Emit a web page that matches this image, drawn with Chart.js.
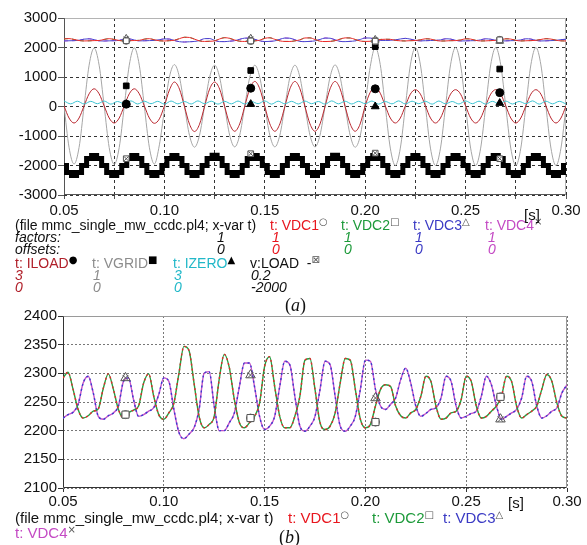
<!DOCTYPE html>
<html>
<head>
<meta charset="utf-8">
<script src="https://cdn.jsdelivr.net/npm/chart.js@4.4.0/dist/chart.umd.min.js"></script>
<style>
body { margin: 0; background: #fff; }
#wrap { position: relative; width: 587px; height: 545px; font-family: "Liberation Sans", Arial, sans-serif; color: #111; overflow: hidden; }
canvas { position: absolute; left: 0; }
.t { position: absolute; white-space: nowrap; font-size: 14px; line-height: 14px; }
.b { font-size: 15px; line-height: 15px; }
.i { font-style: italic; }
sup { font-size: 10px; color: #555; vertical-align: 5px; line-height: 0; font-family: "DejaVu Sans", sans-serif; }
.cap { font-family: "Liberation Serif", "Times New Roman", serif; font-size: 18px; line-height: 18px; }
.red { color: #e8161e; } .grn { color: #1d9a3a; } .blu { color: #3a3ac4; } .mag { color: #c44ac4; }
.drd { color: #b0202a; } .gry { color: #8c8c8c; } .cya { color: #22b8c8; }
</style>
</head>
<body>
<div id="wrap">
  <canvas id="chartA" width="587" height="222" style="top:0"></canvas>
  <canvas id="chartB" width="587" height="215" style="top:300px"></canvas>

  <!-- leyenda (a) -->
  <div class="t" style="left:15px;top:218px">(file mmc_single_mw_ccdc.pl4; x-var t)</div>
  <div class="t red" style="left:270px;top:218px">t: VDC1<sup>○</sup></div>
  <div class="t grn" style="left:341px;top:218px">t: VDC2<sup>□</sup></div>
  <div class="t blu" style="left:413px;top:218px">t: VDC3<sup>△</sup></div>
  <div class="t mag" style="left:485px;top:218px">t: VDC4<sup>×</sup></div>

  <div class="t i" style="left:15px;top:230px">factors:</div>
  <div class="t i" style="left:217px;top:230px">1</div>
  <div class="t i red" style="left:272px;top:230px">1</div>
  <div class="t i grn" style="left:344px;top:230px">1</div>
  <div class="t i blu" style="left:415px;top:230px">1</div>
  <div class="t i mag" style="left:488px;top:230px">1</div>

  <div class="t i" style="left:15px;top:242px">offsets:</div>
  <div class="t i" style="left:217px;top:242px">0</div>
  <div class="t i red" style="left:272px;top:242px">0</div>
  <div class="t i grn" style="left:344px;top:242px">0</div>
  <div class="t i blu" style="left:415px;top:242px">0</div>
  <div class="t i mag" style="left:488px;top:242px">0</div>

  <div class="t drd" style="left:15px;top:256px">t: ILOAD<sup style="color:#000">●</sup></div>
  <div class="t gry" style="left:92px;top:256px">t: VGRID<sup style="color:#000">■</sup></div>
  <div class="t cya" style="left:173px;top:256px">t: IZERO<sup style="color:#000">▲</sup></div>
  <div class="t" style="left:250px;top:256px">v:LOAD&nbsp; -<sup>⊠</sup></div>

  <div class="t i drd" style="left:15px;top:268px">3</div>
  <div class="t i gry" style="left:93px;top:268px">1</div>
  <div class="t i cya" style="left:174px;top:268px">3</div>
  <div class="t i" style="left:251px;top:268px">0.2</div>

  <div class="t i drd" style="left:15px;top:280px">0</div>
  <div class="t i gry" style="left:93px;top:280px">0</div>
  <div class="t i cya" style="left:174px;top:280px">0</div>
  <div class="t i" style="left:251px;top:280px">-2000</div>

  <div class="t cap" style="left:285px;top:296px">(<i>a</i>)</div>
  <div class="t b" style="left:524px;top:207px">[s]</div>

  <!-- leyenda (b) -->
  <div class="t b" style="left:508px;top:495px">[s]</div>
  <div class="t b" style="left:15px;top:510px">(file mmc_single_mw_ccdc.pl4; x-var t)</div>
  <div class="t b red" style="left:288px;top:510px">t: VDC1<sup>○</sup></div>
  <div class="t b grn" style="left:372px;top:510px">t: VDC2<sup>□</sup></div>
  <div class="t b blu" style="left:443px;top:510px">t: VDC3<sup>△</sup></div>
  <div class="t b mag" style="left:15px;top:525px">t: VDC4<sup>×</sup></div>
  <div class="t cap" style="left:279px;top:528px">(<i>b</i>)</div>
</div>

<script>
// eje de tiempo comun (s)
const tInicio = 0.05;
const tPaso = 0.0025;

// VDC1 y VDC2 se ven superpuestas, VDC3 y VDC4 tambien
const vdc12 = [2292,2302,2272,2237,2222,2226,2234,2238,2274,2299,
  2272,2237,2222,2231,2236,2243,2283,2299,2260,2228,
  2220,2231,2248,2300,2347,2340,2283,2225,2205,2211,
  2225,2290,2333,2310,2254,2214,2205,2214,2225,2248,
  2312,2329,2277,2225,2205,2205,2225,2260,2323,2326,
  2272,2214,2202,2208,2231,2283,2326,2323,2272,2220,
  2205,2211,2243,2272,2280,2277,2243,2226,2222,2231,
  2237,2260,2295,2286,2243,2220,2222,2231,2234,2254,
  2295,2286,2243,2222,2225,2234,2243,2260,2295,2286,
  2243,2222,2228,2234,2243,2272,2298,2286,2248,2225,
  2222];
const vdc34 = [2222,2228,2232,2246,2283,2295,2266,2225,2220,2226,
  2231,2243,2286,2292,2254,2225,2228,2234,2240,2263,
  2292,2286,2237,2197,2186,2194,2205,2237,2300,2303,
  2243,2200,2200,2214,2231,2277,2318,2318,2277,2225,
  2202,2208,2225,2277,2321,2315,2260,2208,2199,2208,
  2225,2272,2321,2315,2260,2208,2199,2208,2225,2272,
  2323,2321,2272,2243,2237,2246,2257,2289,2309,2283,
  2243,2225,2230,2237,2240,2257,2295,2286,2243,2222,
  2225,2230,2234,2260,2295,2280,2243,2220,2225,2231,
  2237,2257,2295,2286,2243,2222,2226,2234,2240,2266,
  2280];

const vgrid = [30,-1380,-1950,-1390,10,1400,1980,1400,
  20,-1390,-1960,-1390,0,1400,1990,1400,
  10,-1380,-1950,-1300,-120,1000,1420,990,
  0,-980,-1380,-970,10,990,1400,990,
  0,-970,-1370,-970,10,990,1400,990,
  0,-970,-1370,-970,10,990,1400,990,
  0,-970,-1370,-970,10,1000,1410,1000,
  0,-970,-1380,-1000,80,1350,2000,1420,
  0,-1410,-2000,-1410,0,1410,2000,1410,
  0,-1410,-2000,-1410,0,1410,2000,1410,
  0,-1410,-2000,-1410,0,1410,2000,1410,
  0,-1410,-2000,-1410,0,1410,2000,1410,
  0,-1410,-2000,-1410,0];

const iload = [20,-390,-560,-390,20,430,600,430,
  20,-390,-560,-390,20,430,600,430,
  20,-390,-570,-420,20,560,830,590,
  0,-600,-850,-600,0,590,830,590,
  0,-590,-840,-590,0,600,850,600,
  0,-590,-840,-590,0,600,850,600,
  0,-590,-840,-590,0,600,850,600,
  0,-590,-840,-590,20,480,650,450,
  20,-390,-560,-390,20,420,570,420,
  20,-390,-560,-390,20,420,570,420,
  20,-390,-560,-390,20,420,570,420,
  20,-390,-560,-390,20,420,570,420,
  20,-390,-560,-390,20];

const vload = [-2000,-2240,-2340,-2240,-2000,-1760,-1660,-1760,
  -2000,-2240,-2340,-2240,-2000,-1760,-1660,-1760,
  -2000,-2240,-2340,-2240,-2000,-1760,-1660,-1760,
  -2000,-2240,-2340,-2240,-2000,-1760,-1650,-1760,
  -2000,-2240,-2340,-2240,-2000,-1760,-1660,-1760,
  -2000,-2240,-2340,-2240,-2000,-1760,-1660,-1760,
  -2000,-2240,-2340,-2240,-2000,-1760,-1650,-1760,
  -2000,-2240,-2340,-2240,-2000,-1760,-1660,-1760,
  -2000,-2240,-2340,-2240,-2000,-1760,-1660,-1760,
  -2000,-2240,-2340,-2240,-2000,-1760,-1660,-1760,
  -2000,-2240,-2340,-2240,-2000,-1760,-1660,-1760,
  -2000,-2240,-2340,-2240,-2000,-1760,-1660,-1760,
  -2000,-2240,-2340,-2240,-2000];

// IZERO tiene otra resolucion (rizado de 150 Hz)
const izeroInicio = 0.05;
const izeroPaso = 1 / 300;
const izero = [190,90,180,85,175,95,185,80,170,90,
  190,85,180,95,175,80,185,90,170,85,
  190,95,180,80,175,90,185,85,170,95,
  190,80,180,90,175,85,185,95,170,80,
  190,90,180,85,175,95,185,80,170,90,
  190,85,180,95,175,80,185,90,170,85,
  190,95,180,80,175,90,185,85,170,95,
  190,80,180,90,175,85];

// marcadores de ATP
const tMarcas = [0.081, 0.143, 0.205, 0.267];
const marcaVdc12 = [2228, 2222, 2215, 2259];
const marcaVdc34 = [2292, 2297, 2257, 2220];
const marcaIload = [80, 620, 600, 470];
const marcaVgrid = [700, 1220, 2030, 1270];
const marcaIzero = [80, 80, 0, 115];
const marcaLoad = [-1770, -1600, -1580, -1770];

const ticksA = [-3000, -2000, -1000, 0, 1000, 2000, 3000];

function serie(vals, t0, dt) {
  return vals.map((v, i) => ({ x: t0 + i * dt, y: v }));
}
function marcas(vals) {
  return tMarcas.map((t, i) => ({ x: t, y: vals[i] }));
}
function linea(label, vals, color, ancho, orden, extra) {
  return Object.assign({
    label: label,
    data: serie(vals, tInicio, tPaso),
    borderColor: color,
    borderWidth: ancho,
    pointRadius: 0,
    fill: false,
    cubicInterpolationMode: 'monotone',
    order: orden
  }, extra || {});
}
function marca(label, vals, estilo, relleno, radio, orden) {
  return {
    label: label,
    data: marcas(vals),
    showLine: false,
    pointStyle: estilo,
    pointRadius: radio,
    pointBorderWidth: 1,
    pointBorderColor: relleno === '#000' ? '#000' : '#555',
    pointBackgroundColor: relleno,
    order: orden
  };
}

// marco de la grafica
const marco = {
  id: 'marco',
  beforeDatasetsDraw(chart, args, opts) {
    const { ctx, chartArea: a } = chart;
    const l = Math.round(a.left) + 0.5, r = Math.round(a.right) - 0.5;
    const t = Math.round(a.top) + 0.5, b = Math.round(a.bottom) - 0.5;
    ctx.save();
    ctx.lineWidth = 1;
    ctx.strokeStyle = opts.claro;
    ctx.beginPath();
    ctx.moveTo(l, t); ctx.lineTo(r, t); ctx.lineTo(r, b);
    ctx.stroke();
    ctx.strokeStyle = opts.oscuro;
    ctx.beginPath();
    ctx.moveTo(l, t); ctx.lineTo(l, b); ctx.lineTo(r, b);
    ctx.stroke();
    ctx.restore();
  }
};

const fuente = { family: 'Liberation Sans', size: 15 };
const vacio = 'rgba(255,255,255,0)';

new Chart(document.getElementById('chartA'), {
  type: 'line',
  data: {
    datasets: [
      marca('VDC2', marcaVdc12, 'rect', '#fff', 4, 0),
      marca('VDC1', marcaVdc12, 'circle', '#fff', 3.5, 0),
      marca('VDC4', marcaVdc34, 'crossRot', '#fff', 3.5, 0),
      marca('VDC3', marcaVdc34, 'triangle', vacio, 4.5, 0),
      marca('ILOAD', marcaIload, 'circle', '#000', 4, 0),
      marca('VGRID', marcaVgrid, 'rect', '#000', 4, 0),
      marca('IZERO', marcaIzero, 'triangle', '#000', 4.5, 0),
      marca('LOADx', marcaLoad, 'crossRot', '#fff', 3, 0),
      marca('LOAD', marcaLoad, 'rect', '#fff', 4, 0),
      {
        label: 'IZERO',
        data: serie(izero, izeroInicio, izeroPaso),
        borderColor: '#3cc4d2',
        borderWidth: 1,
        pointRadius: 0,
        cubicInterpolationMode: 'monotone',
        order: 1
      },
      linea('ILOAD', iload, '#b8242c', 1, 2),
      linea('VGRID', vgrid, '#a6a6a6', 1, 3),
      linea('LOAD', vload, '#000', 5, 4, { stepped: 'middle', cubicInterpolationMode: 'default' }),
      linea('VDC1', vdc12, '#ee2a2a', 1, 5),
      linea('VDC2', vdc12, '#2aa04a', 1, 6, { borderDash: [4, 4] }),
      linea('VDC3', vdc34, '#4646d0', 1, 7),
      linea('VDC4', vdc34, '#d050d0', 1, 8, { borderDash: [4, 4] })
    ]
  },
  options: {
    responsive: false,
    animation: false,
    devicePixelRatio: 1,
    layout: { padding: { top: 18, right: 21, left: 0, bottom: 0 } },
    plugins: {
      legend: { display: false },
      tooltip: { enabled: false },
      marco: { claro: '#b4b4b4', oscuro: '#555' }
    },
    scales: {
      x: {
        type: 'linear',
        min: 0.05,
        max: 0.30,
        afterFit(s) { s.height = 27; },
        ticks: {
          stepSize: 0.025,
          autoSkip: false,
          maxRotation: 0,
          padding: 3,
          color: '#111',
          font: fuente,
          callback: v => (Math.round(v * 1000) % 50 === 0 ? v.toFixed(2) : '')
        },
        grid: { color: '#333', lineWidth: 1, tickLength: 4, tickColor: '#555' },
        border: { display: false, dash: [3, 3] }
      },
      y: {
        min: -3000,
        max: 3000,
        afterFit(s) { s.width = 64; },
        afterBuildTicks(s) { s.ticks = ticksA.map(v => ({ value: v })); },
        ticks: {
          padding: 1,
          color: '#111',
          font: fuente,
          callback: v => String(v)
        },
        grid: { color: '#333', lineWidth: 1, tickLength: 6, tickColor: '#555' },
        border: { display: false, dash: [3, 3] }
      }
    }
  },
  plugins: [marco]
});

new Chart(document.getElementById('chartB'), {
  type: 'line',
  data: {
    datasets: [
      marca('VDC2', marcaVdc12, 'rect', '#fff', 5, 0),
      marca('VDC1', marcaVdc12, 'circle', '#fff', 4, 0),
      marca('VDC4', marcaVdc34, 'crossRot', '#fff', 4, 0),
      marca('VDC3', marcaVdc34, 'triangle', vacio, 5.5, 0),
      linea('VDC1', vdc12, '#e8262a', 1.4, 2, { borderDash: [2, 3] }),
      linea('VDC2', vdc12, '#22a040', 1.4, 3),
      linea('VDC3', vdc34, '#3a3ad0', 1.4, 4, { borderDash: [2, 3] }),
      linea('VDC4', vdc34, '#c452c8', 1.4, 5)
    ]
  },
  options: {
    responsive: false,
    animation: false,
    devicePixelRatio: 1,
    layout: { padding: { top: 16, right: 20, left: 0, bottom: 0 } },
    plugins: {
      legend: { display: false },
      tooltip: { enabled: false },
      marco: { claro: '#9a9a9a', oscuro: '#333' }
    },
    scales: {
      x: {
        type: 'linear',
        min: 0.05,
        max: 0.30,
        afterFit(s) { s.height = 27; },
        ticks: {
          stepSize: 0.05,
          autoSkip: false,
          maxRotation: 0,
          padding: 1,
          color: '#111',
          font: fuente,
          callback: v => v.toFixed(2)
        },
        grid: { color: '#777', lineWidth: 1, tickLength: 4, tickColor: '#333' },
        border: { display: false, dash: [2, 2] }
      },
      y: {
        min: 2100,
        max: 2400,
        afterFit(s) { s.width = 63; },
        ticks: {
          stepSize: 50,
          padding: 1,
          color: '#111',
          font: fuente,
          callback: v => String(v)
        },
        grid: { color: '#777', lineWidth: 1, tickLength: 5, tickColor: '#333' },
        border: { display: false, dash: [2, 2] }
      }
    }
  },
  plugins: [marco]
});
</script>
</body>
</html>
